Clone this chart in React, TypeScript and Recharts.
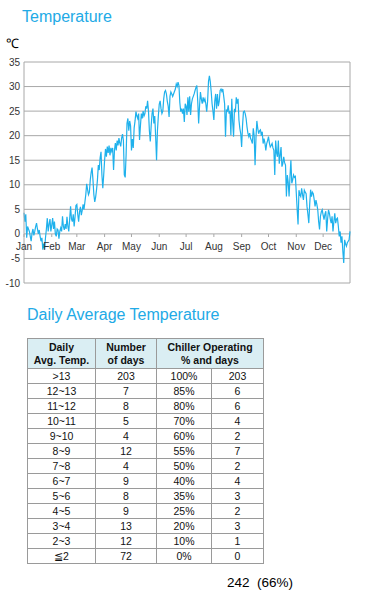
import { CartesianGrid, Line, LineChart, ReferenceLine, XAxis, YAxis } from "recharts";

// daily mean temperature (°C), one array per month
const jan = [4.3, 2.5, 4.0, -0.8, 1.5, 1.0, 0.5, -0.5, -1.5, 0.2, 1.0, -0.3, 0.5, 1.5, 2.2, 1.0, 0.0, 0.8, -0.5, -1.5, -0.8, -3.2, -2.0, -3.0, -0.8, 1.0, 3.2, 0.5, 2.0, 3.0, 0.5];
const feb = [1.8, 3.2, 1.0, 2.5, 0.0, -0.5, 1.0, 0.8, -1.0, 0.5, 1.2, 0.5, 3.6, 1.5, 0.8, 2.0, 1.0, 3.5, 1.5, 0.5, 3.0, 5.6, 3.0, 2.5, 4.0, 1.5, 3.5, 5.8];
const mar = [6.0, 4.0, 2.5, 4.5, 5.5, 3.8, 4.8, 6.0, 5.0, 6.5, 8.0, 10.2, 9.0, 8.0, 8.5, 11.0, 12.5, 13.5, 11.0, 8.0, 6.5, 7.5, 9.0, 11.0, 14.0, 13.0, 15.5, 16.7, 12.0, 9.3, 12.0];
const apr = [15.0, 17.3, 15.7, 17.8, 16.5, 18.0, 16.0, 17.5, 16.8, 17.5, 13.0, 17.0, 18.5, 17.0, 19.0, 18.0, 19.5, 18.5, 17.8, 19.5, 20.3, 19.0, 12.0, 11.5, 16.0, 22.5, 23.5, 21.0, 23.0, 22.0];
const may = [17.0, 19.3, 17.5, 21.6, 23.0, 24.9, 24.0, 23.5, 24.5, 19.1, 22.0, 24.5, 23.5, 25.0, 24.0, 24.5, 26.0, 25.5, 27.1, 25.0, 21.0, 18.8, 22.0, 24.5, 25.5, 22.5, 24.0, 19.8, 15.0, 21.0, 24.0];
const jun = [26.4, 27.1, 25.5, 24.5, 25.0, 27.5, 28.9, 29.2, 28.5, 27.0, 26.0, 23.8, 28.0, 28.9, 28.5, 28.0, 28.5, 29.0, 29.5, 30.5, 30.0, 30.9, 30.2, 26.7, 24.9, 25.5, 24.5, 25.5, 22.8, 26.5];
const jul = [26.0, 24.2, 27.8, 24.9, 28.0, 24.2, 26.5, 27.5, 28.0, 28.5, 29.2, 29.8, 30.2, 27.0, 22.5, 26.0, 28.9, 27.5, 26.5, 27.8, 27.0, 27.5, 26.5, 24.9, 27.0, 31.0, 32.2, 31.0, 29.0, 26.5, 25.0];
const aug = [23.2, 27.0, 28.5, 25.5, 28.5, 26.0, 27.0, 29.2, 29.5, 29.0, 29.5, 28.0, 26.5, 19.8, 25.2, 25.0, 26.2, 24.5, 25.0, 20.1, 27.5, 22.8, 19.8, 25.5, 24.8, 27.8, 26.5, 27.5, 23.2, 21.5, 20.4];
const sep = [17.7, 22.0, 24.8, 25.0, 24.5, 23.5, 21.8, 20.5, 19.8, 20.5, 19.4, 19.0, 18.4, 21.5, 20.0, 14.0, 19.5, 23.0, 21.5, 20.4, 21.0, 21.2, 20.0, 20.8, 18.4, 19.4, 18.5, 17.0, 18.4, 19.0];
const oct = [19.8, 18.5, 17.7, 18.0, 18.4, 17.5, 17.0, 12.0, 19.0, 16.5, 15.7, 19.0, 14.3, 16.0, 17.7, 13.7, 14.3, 15.7, 14.5, 14.0, 7.6, 12.0, 10.5, 7.6, 11.7, 15.0, 10.3, 11.0, 12.0, 11.5, 11.7];
const nov = [8.4, 5.0, 1.9, 8.9, 8.0, 7.6, 9.3, 8.0, 6.9, 8.9, 8.5, 8.2, 5.6, 4.0, 2.2, 6.0, 9.0, 7.6, 8.5, 8.2, 7.0, 5.6, 6.9, 6.0, 4.9, 2.5, 0.9, 3.6, 4.5, 4.9];
const dec = [3.8, 2.9, 4.0, 4.6, 0.5, 3.0, 4.9, 4.2, 3.0, 2.2, 3.6, 0.5, 2.5, 4.2, 2.2, 3.0, 3.2, 1.5, -0.5, 0.5, -1.8, -0.5, -3.5, -5.9, -1.2, -2.0, -2.5, -1.8, -1.5, -1.2, 0.5];

const monthLabels = ["Jan", "Feb", "Mar", "Apr", "May", "Jun", "Jul", "Aug", "Sep", "Oct", "Nov", "Dec"];
const monthStarts = [0, 31, 59, 90, 120, 151, 181, 212, 243, 273, 304, 334];
const yTicks = [-10, -5, 0, 5, 10, 15, 20, 25, 30, 35];

// table
const tempRanges = [">13", "12~13", "11~12", "10~11", "9~10", "8~9", "7~8", "6~7", "5~6", "4~5", "3~4", "2~3", "≦2"];
const dayCounts = [203, 7, 8, 5, 4, 12, 4, 9, 8, 9, 13, 12, 72];
const chillerPcts = ["100%", "85%", "80%", "70%", "60%", "55%", "50%", "40%", "35%", "25%", "20%", "10%", "0%"];
const chillerDays = [203, 6, 6, 4, 2, 7, 2, 4, 3, 2, 3, 1, 0];

const temps = [...jan, ...feb, ...mar, ...apr, ...may, ...jun, ...jul, ...aug, ...sep, ...oct, ...nov, ...dec];
const data = temps.map((t, i) => ({ day: i, t }));

const FONT = "Arial, 'Liberation Sans', sans-serif";
const BLUE = "#22aae6";
const GRID = "#a8a8a8";

function MonthTick({ x, y, payload }: any) {
  const label = monthLabels[monthStarts.indexOf(payload.value)];
  return (
    <g>
      <line x1={x} x2={x} y1={y - 49} y2={y - 46} stroke={GRID} />
      <text x={x} y={y - 33} textAnchor="middle" fontSize={10} fill="#333" fontFamily={FONT}>
        {label}
      </text>
    </g>
  );
}

const cell: React.CSSProperties = {
  border: "1px solid #9a9a9a",
  padding: 0,
  textAlign: "center",
  height: 14,
  lineHeight: "14px",
};
const head: React.CSSProperties = {
  ...cell,
  background: "#daeef3",
  fontWeight: "bold",
  lineHeight: "13px",
  height: 29,
};

export default function App() {
  return (
    <div style={{ position: "absolute", left: 0, top: 0, width: 377, height: 600, fontFamily: FONT, background: "#fff" }}>
      <div style={{ position: "absolute", left: 22, top: 8, fontSize: 16, color: BLUE }}>Temperature</div>
      <div style={{ position: "absolute", left: 6, top: 34, fontSize: 13, color: "#000" }}>℃</div>

      <div style={{ position: "absolute", left: 0, top: 0 }}>
        <LineChart width={377} height={300} data={data} margin={{ top: 62, right: 27, bottom: 0, left: 0 }}>
          <CartesianGrid vertical={false} stroke={GRID} />
          <XAxis
            dataKey="day"
            type="number"
            domain={[0, 364]}
            ticks={monthStarts}
            interval={0}
            height={17}
            axisLine={false}
            tickLine={false}
            tickSize={0}
            tickMargin={0}
            tick={<MonthTick />}
          />
          <YAxis
            domain={[-10, 35]}
            ticks={yTicks}
            interval={0}
            width={24}
            axisLine={{ stroke: GRID }}
            tickLine={false}
            tickSize={0}
            tickMargin={4}
            tick={{ fontSize: 10, fill: "#333", fontFamily: FONT }}
          />
          <ReferenceLine x={364} stroke={GRID} />
          <Line type="linear" dataKey="t" stroke="#1fb1ec" strokeWidth={1.2} dot={false} isAnimationActive={false} />
        </LineChart>
      </div>

      <div style={{ position: "absolute", left: 27, top: 306, fontSize: 16, color: BLUE }}>Daily Average Temperature</div>

      <table
        style={{
          position: "absolute",
          left: 27,
          top: 338,
          width: 236,
          borderCollapse: "collapse",
          fontSize: 10.5,
          color: "#111",
          tableLayout: "fixed",
        }}
      >
        <colgroup>
          <col style={{ width: 68 }} />
          <col style={{ width: 61 }} />
          <col style={{ width: 55 }} />
          <col style={{ width: 52 }} />
        </colgroup>
        <thead>
          <tr>
            <th style={head}>Daily<br />Avg. Temp.</th>
            <th style={head}>Number<br />of days</th>
            <th style={head} colSpan={2}>Chiller Operating<br />% and days</th>
          </tr>
        </thead>
        <tbody>
          {tempRanges.map((r, i) => (
            <tr key={r}>
              <td style={cell}>{r}</td>
              <td style={cell}>{dayCounts[i]}</td>
              <td style={cell}>{chillerPcts[i]}</td>
              <td style={cell}>{chillerDays[i]}</td>
            </tr>
          ))}
        </tbody>
      </table>

      <div style={{ position: "absolute", left: 227, top: 575, fontSize: 13.5, color: "#000", whiteSpace: "pre" }}>
        {"242  (66%)"}
      </div>
    </div>
  );
}
